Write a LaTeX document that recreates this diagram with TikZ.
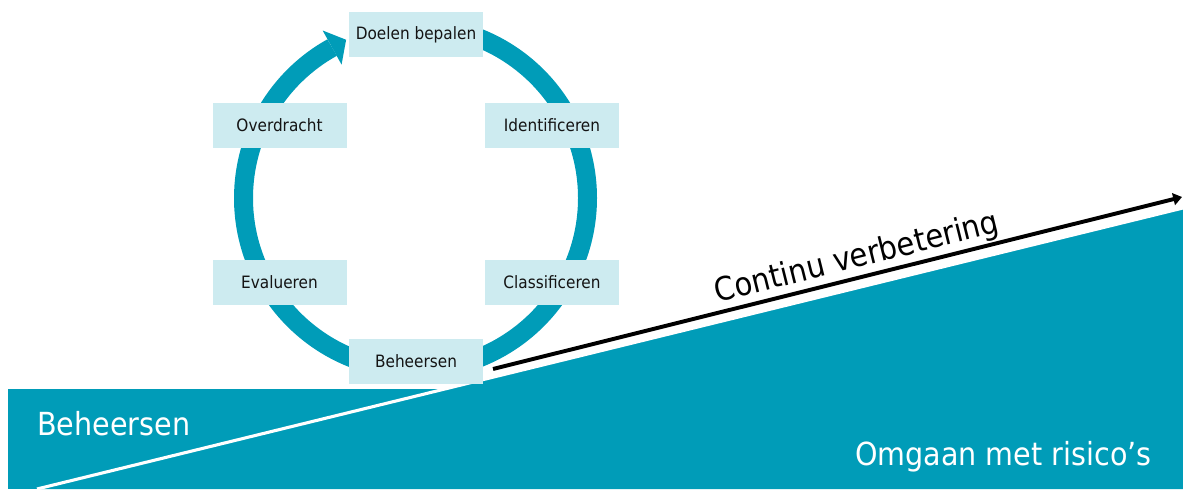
\documentclass[tikz,border=0pt]{standalone}
\usepackage{fontspec}
\setmainfont{DejaVu Sans Condensed}
\usetikzlibrary{arrows.meta,calc}
\definecolor{teal}{RGB}{0,156,184}
\definecolor{boxfill}{RGB}{205,235,240}
\definecolor{boxtext}{RGB}{20,20,20}
\tikzset{
  stepbox/.style={fill=boxfill, draw=none, minimum width=134*0.025cm, minimum height=45*0.025cm,
    inner sep=0pt, text=boxtext, font=\fontsize{12.1}{14}\selectfont},
  bigwhite/.style={text=white, inner sep=0pt, font=\fontsize{22.6}{27}\selectfont},
}
\begin{document}
\begin{tikzpicture}[x=0.025cm,y=0.025cm]
\useasboundingbox (0,0) rectangle (1183,489);
% base bands
\fill[teal] (8,0) rectangle (600,100);
\fill[teal] (37,0) -- (1183,281) -- (1183,0) -- cycle;
\draw[white, line width=2.2pt] (37,0) -- (1183,281);
% ring
\coordinate (c) at (415.5,291);
\draw[teal, line width=19*0.025cm] ($(c)+(90:172)$) arc[start angle=90, end angle=-241, radius=172];
\fill[teal] ($(c)+(119:191.5)$) -- ($(c)+(119:172)+(14,7.8)$) -- ($(c)+(119:152.5)$) -- cycle;
% boxes
\node[stepbox] (doel) at (416,454) {Doelen bepalen};
\node[stepbox] (over) at (279.5,363.5) {Overdracht};
\node[stepbox] (iden) at (552,363.5) {Identificeren};
\node[stepbox] (eval) at (279.5,206.5) {Evalueren};
\node[stepbox] (clas) at (552,206.5) {Classificeren};
\node[stepbox] (behe) at (416,127.5) {Beheersen};
% improvement arrow
\coordinate (a0) at (493,120);
\coordinate (a1) at (1182,292);
\draw[black, line width=2.8pt, -{Triangle[length=0.22cm,width=0.3cm]}] (a0) -- (a1)
  node[pos=0.535, sloped, anchor=south, inner sep=1pt, font=\fontsize{23}{27}\selectfont] (cv) {Continu verbetering};
% labels
\node[bigwhite, anchor=base west] (lb) at (37,54) {Beheersen};
\node[bigwhite, anchor=base west] (lo) at (855,24) {Omgaan met risico’s};
\end{tikzpicture}
\end{document}
